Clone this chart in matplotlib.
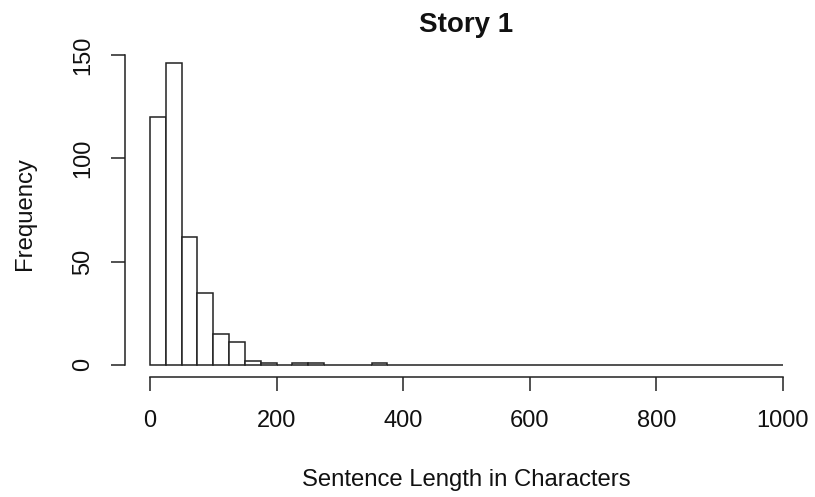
import matplotlib
matplotlib.use("Agg")
import matplotlib.pyplot as plt
import numpy as np

# Histogram data (bins of width 25 from 0 to 1000)
bin_edges = list(range(0, 1001, 25))
counts = [120, 146, 62, 35, 15, 11, 2, 1, 0, 1,
          1, 0, 0, 0, 1, 0, 0, 0, 0, 0,
          0, 0, 0, 0, 0, 0, 0, 0, 0, 0,
          0, 0, 0, 0, 0, 0, 0, 0, 0, 0]
x_ticks = [0, 200, 400, 600, 800, 1000]
y_ticks = [0, 50, 100, 150]
title = "Story 1"
xlabel = "Sentence Length in Characters"
ylabel = "Frequency"

plt.rcParams['font.family'] = ['Liberation Sans', 'DejaVu Sans']

W, H = 815, 497
fig = plt.figure(figsize=(W / 100, H / 100), dpi=100)
left, right, top, bottom = 124.7, 808.3, 51.2, 377.0
ax = fig.add_axes([left / W, 1 - bottom / H, (right - left) / W, (bottom - top) / H])

lw = 1.1
line_col = '#222222'
widths = np.diff(bin_edges)
ax.bar(bin_edges[:-1], counts, width=widths, align='edge',
       facecolor='white', edgecolor=line_col, linewidth=lw)

ax.set_xlim(-40, 1040)
ax.set_ylim(-0.04 * max(counts), max(counts) * 1.04)

for s in ['top', 'right']:
    ax.spines[s].set_visible(False)
ax.spines['left'].set_bounds(0, 150)
ax.spines['bottom'].set_bounds(0, 1000)
for s in ['left', 'bottom']:
    ax.spines[s].set_linewidth(lw)
    ax.spines[s].set_color(line_col)

ax.set_xticks(x_ticks)
ax.set_yticks(y_ticks)
ax.set_yticklabels([str(v) for v in y_ticks], rotation=90, va='center')
ax.tick_params(axis='both', direction='out', length=10, width=lw,
               labelsize=17, colors=line_col, labelcolor='#111111')
ax.tick_params(axis='x', pad=14)
ax.tick_params(axis='y', pad=12)

fig.text(466.5 / W, 1 - 25 / H, title, ha='center', va='center',
         fontsize=20, fontweight='bold', color='#111111')
fig.text(466.5 / W, 1 - 480 / H, xlabel, ha='center', va='center',
         fontsize=17.2, color='#111111')
fig.text(25 / W, 1 - 214 / H, ylabel, ha='center', va='center',
         fontsize=17.2, rotation=90, color='#111111')

fig.savefig("out.png", dpi=100, facecolor='white')
